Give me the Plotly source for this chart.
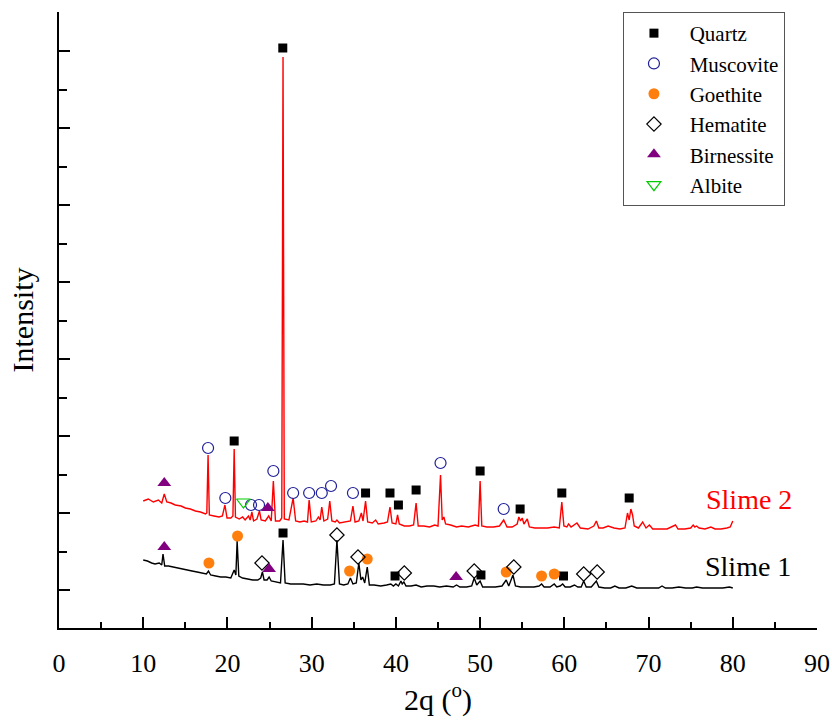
import plotly.graph_objects as go

# ---- XRD patterns (2-theta in degrees, intensity in arbitrary counts) ----
slime2_2theta = [
    10.0, 10.6, 11.2, 11.8, 12.2, 12.5, 12.8, 13.3, 13.8, 14.5, 15.0, 15.6, 16.2, 16.8,
    17.4, 17.55, 17.7, 17.85, 18.4, 19.0, 19.4, 19.7, 19.95, 20.4, 20.65, 20.8, 20.95,
    21.4, 21.8, 22.1, 22.5, 22.7, 22.9, 23.1, 23.5, 23.8, 24.0, 24.5, 24.9, 25.2, 25.45,
    25.7, 26.2, 26.45, 26.6, 26.75, 27.3, 27.8, 28.1, 28.6, 29.1, 29.5, 29.7, 29.95,
    30.5, 30.8, 31.0, 31.2, 31.45, 31.9, 32.15, 32.4, 32.8, 33.0, 33.3, 34.0, 34.6,
    34.9, 35.15, 35.6, 35.9, 36.1, 36.4, 36.65, 37.2, 37.6, 37.9, 38.6, 39.0, 39.3,
    39.55, 40.0, 40.2, 40.4, 41.0, 41.6, 42.1, 42.4, 42.65, 43.3, 44.0, 44.6, 45.0,
    45.3, 45.5, 45.7, 45.9, 46.5, 47.2, 47.8, 48.6, 49.4, 49.8, 50.0, 50.2, 50.8,
    51.6, 52.3, 52.8, 53.2, 53.8, 54.4, 54.6, 54.8, 55.0, 55.2, 55.6, 55.85, 56.5,
    57.2, 58.0, 58.8, 59.4, 59.7, 59.95, 60.3, 60.5, 60.8, 61.5, 61.9, 62.8, 63.5,
    63.8, 64.1, 64.6, 65.2, 65.9, 66.6, 67.2, 67.5, 67.7, 67.9, 68.1, 68.3, 68.8,
    69.3, 69.7, 70.1, 70.5, 71.3, 72.2, 73.2, 73.5, 74.3, 75.0, 75.3, 75.5, 75.7,
    76.0, 76.7, 77.4, 77.9, 78.6, 79.3, 79.7, 80.0,
]
slime2_counts = [
    1270, 1290, 1260, 1280, 1250, 1340, 1260, 1250, 1230, 1220, 1200, 1190, 1170, 1160,
    1140, 1150, 1730, 1130, 1120, 1110, 1120, 1230, 1100, 1100, 1120, 1790, 1110,
    1090, 1110, 1080, 1120, 1080, 1160, 1070, 1090, 1170, 1080, 1070, 1120, 1070, 1470,
    1070, 1070, 1100, 5710, 1090, 1080, 1300, 1070, 1060, 1070, 1060, 1280, 1060,
    1070, 1110, 1080, 1210, 1070, 1090, 1270, 1070, 1060, 1080, 1050, 1060, 1070,
    1220, 1060, 1070, 1150, 1070, 1270, 1060, 1050, 1080, 1040, 1050, 1060, 1210,
    1050, 1040, 1130, 1040, 1020, 1020, 1030, 1250, 1020, 1020, 1010, 1030, 1020,
    1530, 1080, 1110, 1040, 1030, 1010, 1020, 1010, 1030, 1020, 1470, 1020, 1010,
    1010, 1020, 1080, 1010, 1010, 1040, 1110, 1070, 1100, 1040, 1090, 1010, 1000,
    1000, 1000, 1010, 1000, 1260, 1020, 1010, 1040, 1010, 1050, 1000, 990, 1020,
    1070, 1000, 1000, 1020, 1000, 990, 1000, 1150, 1080, 1190, 1130, 1020, 1000,
    1060, 1000, 1030, 990, 990, 990, 1030, 990, 990, 1000, 1030, 1010, 1020,
    1000, 990, 1010, 990, 990, 1000, 1010, 1070,
]

slime1_2theta = [
    10.0, 10.5, 11.0, 11.4, 11.9, 12.2, 12.35, 12.55, 13.0, 13.5, 14.0, 14.6, 15.2,
    15.8, 16.4, 17.0, 17.5, 17.75, 18.0, 18.6, 19.2, 19.8, 20.4, 20.8, 21.0, 21.15,
    21.35, 21.8, 22.4, 23.0, 23.6, 23.95, 24.15, 24.35, 24.7, 24.95, 25.2, 25.8, 26.3,
    26.6, 26.85, 27.5, 28.2, 29.0, 29.8, 30.6, 31.4, 32.2, 32.7, 33.0, 33.3, 33.8,
    34.3, 34.6, 34.9, 35.3, 35.6, 35.85, 36.05, 36.3, 36.6, 36.85, 37.4, 38.2, 38.9,
    39.4, 39.7, 40.0, 40.3, 40.6, 40.75, 40.95, 41.2, 41.8, 42.4, 43.0, 43.7, 44.5,
    45.2, 46.0, 46.8, 47.2, 47.6, 48.4, 49.0, 49.3, 49.6, 50.0, 50.3, 51.0, 51.8,
    52.6, 53.1, 53.4, 53.9, 54.2, 54.8, 55.6, 56.4, 57.0, 57.3, 57.6, 58.3, 58.8,
    59.1, 59.5, 59.8, 60.1, 60.7, 61.2, 61.6, 62.0, 62.3, 62.6, 63.2, 63.8, 64.1,
    64.8, 65.5, 66.0, 66.5, 67.3, 68.0, 68.6, 69.5, 70.4, 71.2, 71.6, 72.0, 72.8,
    73.6, 74.4, 75.2, 75.7, 76.4, 77.2, 78.0, 78.8, 79.6, 80.0,
]
slime1_counts = [
    680, 670, 650, 640, 650, 630, 740, 620, 620, 610, 600, 590, 580,
    570, 560, 550, 540, 570, 530, 520, 510, 510, 500, 580, 530, 870,
    520, 500, 490, 480, 480, 500, 560, 480, 480, 510, 470, 460, 450,
    880, 450, 440, 440, 440, 430, 440, 430, 430, 440, 880, 440, 430,
    440, 500, 440, 450, 650, 480, 510, 450, 610, 430, 430, 420, 430,
    440, 420, 440, 420, 470, 440, 460, 420, 420, 430, 410, 420, 420,
    410, 420, 410, 430, 410, 410, 420, 500, 430, 470, 410, 410, 410,
    420, 480, 420, 530, 420, 410, 410, 410, 420, 440, 410, 410, 440,
    410, 420, 440, 410, 410, 430, 410, 410, 470, 410, 410, 470, 410,
    400, 400, 420, 400, 400, 420, 400, 400, 400, 400, 420, 400, 400,
    410, 400, 400, 410, 400, 400, 400, 400, 410, 400,
]

# ---- Phase identification markers ----
quartz_2theta = [26.57, 20.8, 36.4, 39.3, 40.3, 42.4, 50.0, 54.75, 59.7, 67.7,
                 26.6, 39.9, 50.1, 59.9]
quartz_counts = [5800, 1870, 1350, 1350, 1230, 1380, 1570, 1190, 1350, 1300,
                 950, 520, 530, 520]

muscovite_2theta = [17.7, 19.75, 22.8, 23.75, 25.45, 27.8, 29.7, 31.2, 32.3, 34.9, 45.3, 52.8]
muscovite_counts = [1800, 1300, 1230, 1230, 1570, 1350, 1350, 1350, 1420, 1350, 1650, 1190]

goethite_2theta = [17.8, 21.2, 34.5, 36.6, 53.1, 57.3, 58.8]
goethite_counts = [650, 920, 570, 690, 560, 520, 540]

hematite_2theta = [24.1, 33.0, 35.5, 41.0, 49.3, 54.0, 62.3, 63.9]
hematite_counts = [650, 930, 710, 550, 570, 610, 540, 560]

birnessite_2theta = [12.5, 24.8, 12.5, 24.95, 47.15]
birnessite_counts = [1450, 1200, 810, 590, 510]

albite_2theta = [21.9]
albite_counts = [1260]

x_ticks = [0, 10, 20, 30, 40, 50, 60, 70, 80, 90]

FONT = "Liberation Serif"
PAD = "\u00a0\u00a0\u00a0"  # gap between legend symbol and its label

fig = go.Figure()

fig.add_trace(go.Scatter(x=slime2_2theta, y=slime2_counts, mode="lines",
                         line=dict(color="#ff0000", width=1.4), showlegend=False,
                         hoverinfo="skip"))
fig.add_trace(go.Scatter(x=slime1_2theta, y=slime1_counts, mode="lines",
                         line=dict(color="#000000", width=1.4), showlegend=False,
                         hoverinfo="skip"))

marker_sets = [
    ("Quartz", quartz_2theta, quartz_counts,
     dict(symbol="square", size=9, color="#000000")),
    ("Muscovite", muscovite_2theta, muscovite_counts,
     dict(symbol="circle-open", size=11, color="#1f1f99", line=dict(width=1.2))),
    ("Goethite", goethite_2theta, goethite_counts,
     dict(symbol="circle", size=11, color="#ff7f0e")),
    ("Hematite", hematite_2theta, hematite_counts,
     dict(symbol="diamond-open", size=11, color="#000000", line=dict(width=1.2))),
    ("Birnessite", birnessite_2theta, birnessite_counts,
     dict(symbol="triangle-up", size=12, color="#800080")),
    ("Albite", albite_2theta, albite_counts,
     dict(symbol="triangle-down-open", size=12, color="#00cc00", line=dict(width=1.2))),
]
for name, xs, ys, mk in marker_sets:
    fig.add_trace(go.Scatter(x=xs, y=ys, mode="markers", name=PAD + name, marker=mk))

fig.add_annotation(x=81.9, y=1290, text="Slime 2", showarrow=False,
                   font=dict(family=FONT, size=28, color="#ff0000"),
                   xanchor="center", yanchor="middle")
fig.add_annotation(x=81.8, y=620, text="Slime 1", showarrow=False,
                   font=dict(family=FONT, size=28, color="#000000"),
                   xanchor="center", yanchor="middle")

fig.update_layout(
    width=832, height=721,
    margin=dict(l=59, r=15, t=12, b=93, autoexpand=False),
    paper_bgcolor="white", plot_bgcolor="white",
    font=dict(family=FONT, color="black"),
    legend=dict(x=0.744, y=1.0, xanchor="left", yanchor="top",
                bgcolor="white", bordercolor="#555555", borderwidth=1,
                font=dict(family=FONT, size=21, color="black"),
                indentation=10, entrywidth=172, entrywidthmode="pixels"),
)

fig.update_xaxes(
    range=[0, 90], tickvals=x_ticks, ticktext=[str(v) for v in x_ticks],
    automargin=False, ticklabeloverflow="allow",
    showline=True, linecolor="black", linewidth=2,
    ticks="inside", ticklen=11, tickwidth=2, tickcolor="black",
    minor=dict(dtick=5, tick0=0, ticks="inside", ticklen=6, tickwidth=2, tickcolor="black"),
    showgrid=False, zeroline=False,
    tickfont=dict(family=FONT, size=26),
    ticklabelstandoff=11,
    title=dict(text="2q (<sup>o</sup>)", font=dict(family=FONT, size=30), standoff=3),
)
fig.update_yaxes(
    range=[0, 6160], tick0=380, dtick=770, automargin=False,
    showline=True, linecolor="black", linewidth=2,
    ticks="inside", ticklen=11, tickwidth=2, tickcolor="black",
    minor=dict(dtick=385, tick0=380, ticks="inside", ticklen=8, tickwidth=2, tickcolor="black"),
    showticklabels=False, showgrid=False, zeroline=False,
    title=dict(text="Intensity", font=dict(family=FONT, size=30), standoff=15),
)

fig.write_html("out.html")
